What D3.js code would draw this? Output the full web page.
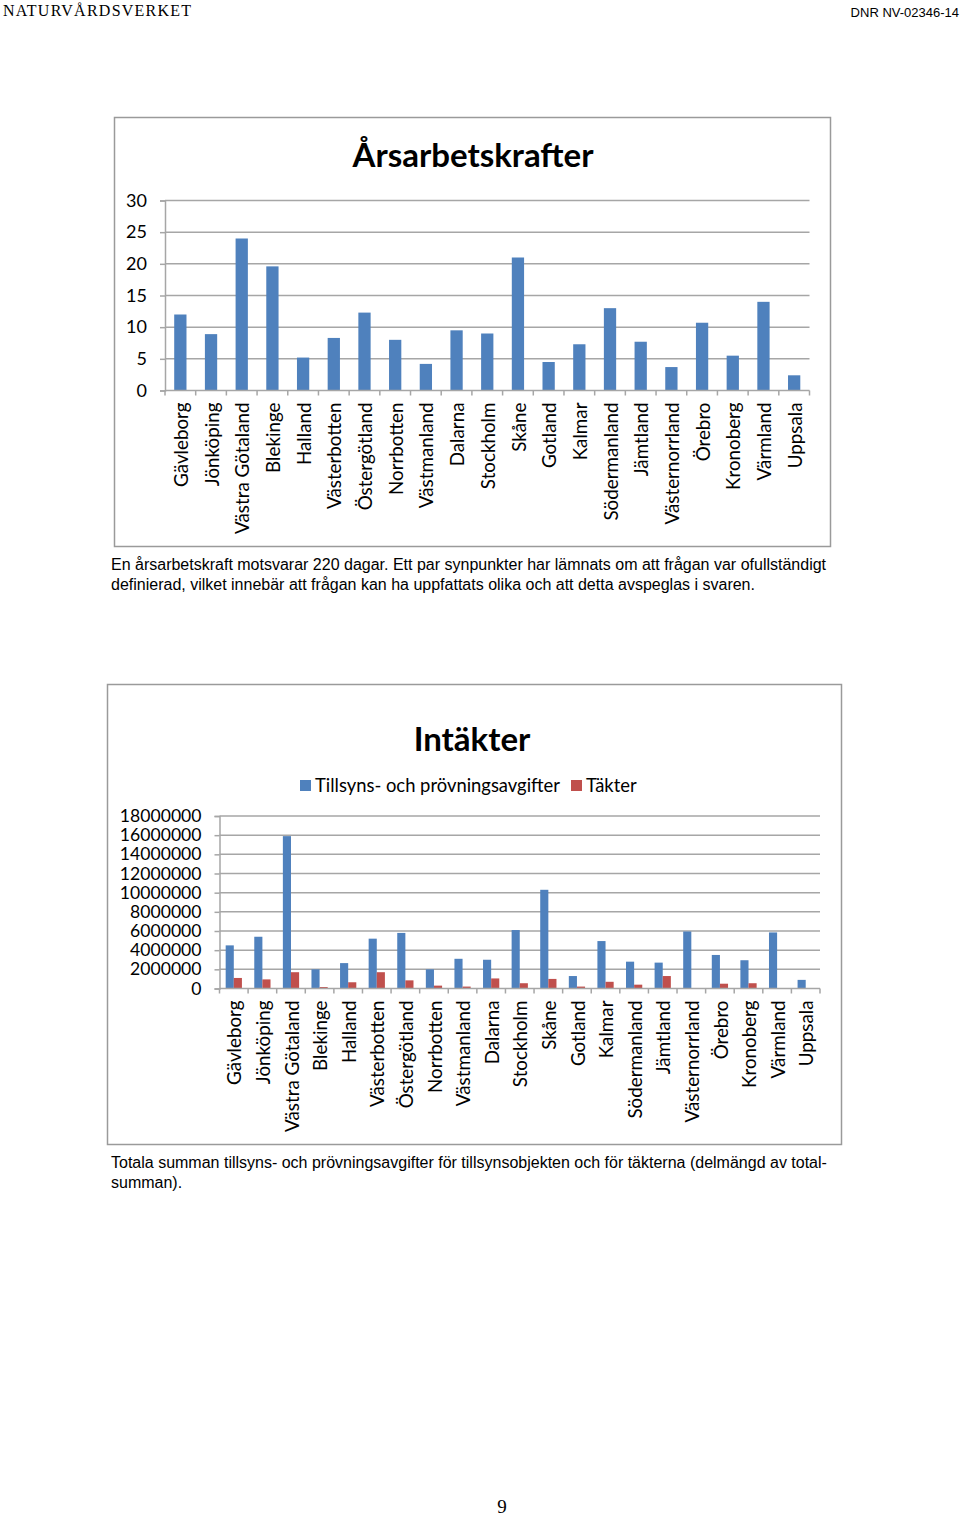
<!DOCTYPE html>
<html><head><meta charset="utf-8">
<script src="https://cdn.jsdelivr.net/npm/d3@7"></script>
<style>
body{margin:0;background:#fff;}
svg{display:block;}
</style></head>
<body>
<svg id="page" width="960" height="1518"></svg>
<script>
const regions = ["Gävleborg","Jönköping","Västra Götaland","Blekinge","Halland","Västerbotten","Östergötland","Norrbotten","Västmanland","Dalarna","Stockholm","Skåne","Gotland","Kalmar","Södermanland","Jämtland","Västernorrland","Örebro","Kronoberg","Värmland","Uppsala"];
const arsarbetskrafter = [12,8.9,24,19.6,5.2,8.3,12.3,8,4.2,9.5,9,21,4.5,7.3,13,7.7,3.7,10.7,5.5,14,2.4];
const tillsynsAvgifter = [4500000,5400000,15900000,2000000,2650000,5200000,5800000,2000000,3100000,3000000,6100000,10300000,1300000,4950000,2800000,2700000,5950000,3500000,2950000,5850000,900000];
const takter = [1100000,950000,1700000,150000,650000,1700000,850000,300000,200000,1050000,550000,1000000,200000,700000,400000,1300000,0,500000,550000,0,0];
const topTicks = [0,5,10,15,20,25,30];
const bottomTicks = [0,2000000,4000000,6000000,8000000,10000000,12000000,14000000,16000000,18000000];
const seriesNames = ["Tillsyns- och prövningsavgifter","Täkter"];

const BLUE="#4f81bd", RED="#c0504d", GRID="#a6a6a6", FONT="Lato, 'Open Sans', sans-serif";
const SANS="'Liberation Sans', Arial, sans-serif";
const svg = d3.select("#page");

// header
svg.append("text").attr("x",3).attr("y",16).attr("font-family","'Liberation Serif', serif").attr("font-size",16).attr("letter-spacing",1.25).text("NATURVÅRDSVERKET");
svg.append("text").attr("x",959).attr("y",17).attr("text-anchor","end").attr("font-family",SANS).attr("font-size",13).text("DNR NV-02346-14");
svg.append("text").attr("x",502).attr("y",1513).attr("text-anchor","middle").attr("font-family","'Liberation Serif', serif").attr("font-size",19).text("9");

function xLabels(g, x, y0){
  g.selectAll("text.xl").data(regions).join("text").attr("class","xl")
    .attr("transform",d=>`translate(${x(d)+x.bandwidth()/2+1},${y0+12}) rotate(-90)`)
    .attr("text-anchor","end").attr("dy","0.35em")
    .attr("font-family",FONT).attr("font-size",18.8).attr("fill","#000").text(d=>d);
}

// ---- Chart 1 ----
{
  const g = svg.append("g");
  g.append("rect").attr("x",114.5).attr("y",117.5).attr("width",716).attr("height",429).attr("fill","#fff").attr("stroke","#9a9a9a").attr("stroke-width",1.5);
  g.append("text").attr("x",473).attr("y",167).attr("text-anchor","middle").attr("font-family",FONT).attr("font-weight","bold").attr("font-size",33).text("Årsarbetskrafter");
  const x = d3.scaleBand().domain(regions).range([165,809.5]).padding(0);
  const y = d3.scaleLinear().domain([0,30]).range([390.5,200.5]);
  const yAx = g.append("g").attr("transform","translate(165,0)")
    .call(d3.axisLeft(y).tickValues(topTicks).tickSize(5).tickPadding(13));
  yAx.select(".domain").attr("stroke",GRID).attr("stroke-width",1.5);
  yAx.selectAll(".tick line").attr("stroke",GRID).attr("stroke-width",1.5);
  yAx.selectAll("text").attr("font-family",FONT).attr("font-size",18).attr("fill","#000");
  g.append("g").selectAll("line").data(topTicks.filter(t=>t>0)).join("line")
    .attr("x1",165).attr("x2",809.5).attr("y1",d=>y(d)).attr("y2",d=>y(d)).attr("stroke",GRID).attr("stroke-width",1.5);
  const bw = x.bandwidth()*0.4;
  g.append("g").selectAll("rect").data(regions).join("rect")
    .attr("x",d=>x(d)+(x.bandwidth()-bw)/2).attr("width",bw)
    .attr("y",(d,i)=>y(arsarbetskrafter[i])).attr("height",(d,i)=>y(0)-y(arsarbetskrafter[i])).attr("fill",BLUE);
  const bounds = regions.map(r=>x(r)).concat([x.range()[1]]);
  g.append("line").attr("x1",165).attr("x2",809.5).attr("y1",y(0)).attr("y2",y(0)).attr("stroke",GRID).attr("stroke-width",1.5);
  g.append("g").selectAll("line").data(bounds).join("line").attr("x1",d=>d).attr("x2",d=>d).attr("y1",y(0)).attr("y2",y(0)+5).attr("stroke",GRID).attr("stroke-width",1.5);
  xLabels(g, x, y(0));
}
svg.append("text").attr("x",111).attr("y",570).attr("font-family",SANS).attr("font-size",16).text("En årsarbetskraft motsvarar 220 dagar. Ett par synpunkter har lämnats om att frågan var ofullständigt");
svg.append("text").attr("x",111).attr("y",590).attr("font-family",SANS).attr("font-size",16).text("definierad, vilket innebär att frågan kan ha uppfattats olika och att detta avspeglas i svaren.");

// ---- Chart 2 ----
{
  const g = svg.append("g");
  g.append("rect").attr("x",107.5).attr("y",684.5).attr("width",734).attr("height",460).attr("fill","#fff").attr("stroke","#9a9a9a").attr("stroke-width",1.5);
  g.append("text").attr("x",472).attr("y",751).attr("text-anchor","middle").attr("font-family",FONT).attr("font-weight","bold").attr("font-size",33).text("Intäkter");
  // legend
  const colors = [BLUE, RED];
  const lx = [300, 571];
  seriesNames.forEach((s,i)=>{
    g.append("rect").attr("x",lx[i]).attr("y",780).attr("width",11).attr("height",11).attr("fill",colors[i]);
    g.append("text").attr("x",lx[i]+15).attr("y",792).attr("font-family",FONT).attr("font-size",18.4).text(s);
  });
  const x0 = d3.scaleBand().domain(regions).range([219.5,820]).padding(0);
  const x1 = d3.scaleBand().domain(seriesNames).range([0,x0.bandwidth()]).paddingInner(0).paddingOuter(0.76);
  const y = d3.scaleLinear().domain([0,18000000]).range([988.5,816]);
  const yAx = g.append("g").attr("transform","translate(219.5,0)")
    .call(d3.axisLeft(y).tickValues(bottomTicks).tickSize(5).tickPadding(13).tickFormat(d3.format("d")));
  yAx.select(".domain").attr("stroke",GRID).attr("stroke-width",1.5);
  yAx.selectAll(".tick line").attr("stroke",GRID).attr("stroke-width",1.5);
  yAx.selectAll("text").attr("font-family",FONT).attr("font-size",17.6).attr("fill","#000");
  g.append("g").selectAll("line").data(bottomTicks.filter(t=>t>0)).join("line")
    .attr("x1",219.5).attr("x2",820).attr("y1",d=>y(d)).attr("y2",d=>y(d)).attr("stroke",GRID).attr("stroke-width",1.5);
  const data = [tillsynsAvgifter, takter];
  data.forEach((vals,si)=>{
    g.append("g").selectAll("rect").data(regions).join("rect")
      .attr("x",d=>x0(d)+x1(seriesNames[si])).attr("width",x1.bandwidth())
      .attr("y",(d,i)=>y(vals[i])).attr("height",(d,i)=>y(0)-y(vals[i])).attr("fill",colors[si]);
  });
  const bounds = regions.map(r=>x0(r)).concat([x0.range()[1]]);
  g.append("line").attr("x1",219.5).attr("x2",820).attr("y1",y(0)).attr("y2",y(0)).attr("stroke",GRID).attr("stroke-width",1.5);
  g.append("g").selectAll("line").data(bounds).join("line").attr("x1",d=>d).attr("x2",d=>d).attr("y1",y(0)).attr("y2",y(0)+5).attr("stroke",GRID).attr("stroke-width",1.5);
  xLabels(g, x0, y(0));
}
svg.append("text").attr("x",111).attr("y",1168).attr("font-family",SANS).attr("font-size",16).text("Totala summan tillsyns- och prövningsavgifter för tillsynsobjekten och för täkterna (delmängd av total-");
svg.append("text").attr("x",111).attr("y",1188).attr("font-family",SANS).attr("font-size",16).text("summan).");
</script>
</body></html>
